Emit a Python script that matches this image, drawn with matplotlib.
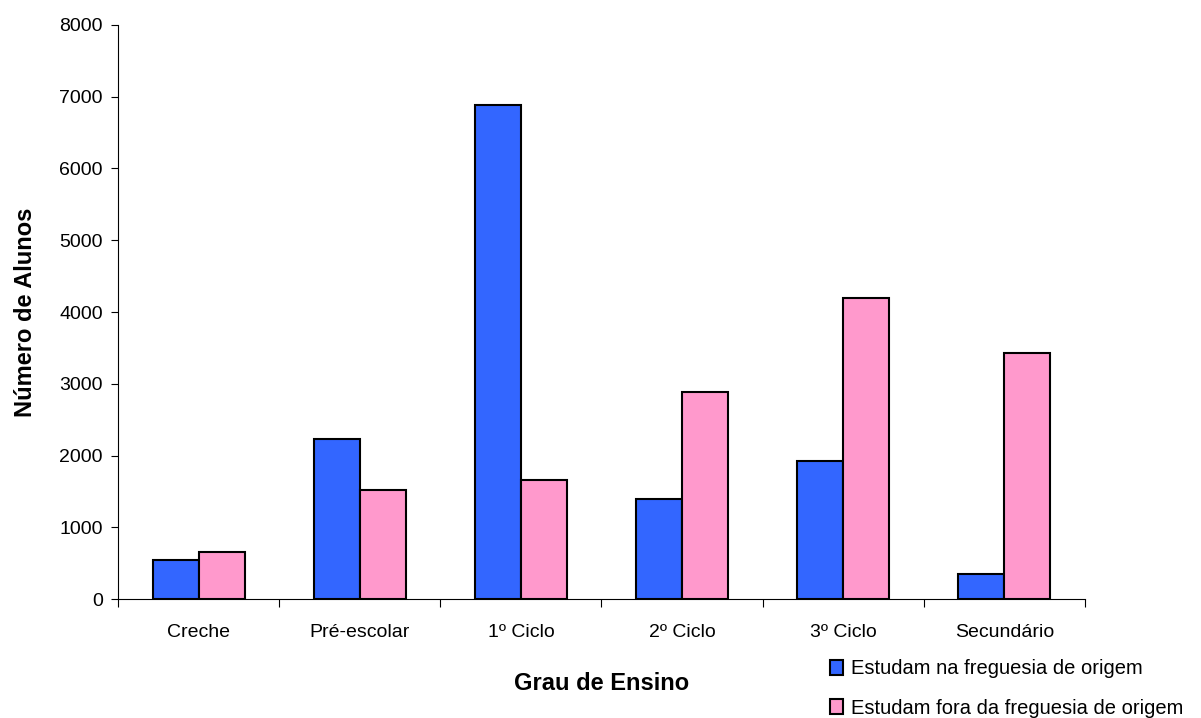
import matplotlib
matplotlib.use('Agg')
from matplotlib import pyplot as plt
import numpy as np

plt.rcParams['font.family'] = ['Liberation Sans', 'DejaVu Sans']

graus = ['Creche', 'Pré-escolar', '1º Ciclo', '2º Ciclo', '3º Ciclo', 'Secundário']
na_freguesia = [540, 2225, 6890, 1400, 1930, 350]
fora_freguesia = [650, 1515, 1655, 2885, 4195, 3430]
serie_labels = ['Estudam na freguesia de origem', 'Estudam fora da freguesia de origem']

fig = plt.figure(figsize=(12.01, 7.18), dpi=100)
ax = fig.add_axes([0.0983, 0.1657, 0.805, 0.7995])

x = np.arange(len(graus))
w = 0.285
b1 = ax.bar(x - w / 2, na_freguesia, w, color='#3366FF', edgecolor='black', linewidth=1.5)
b2 = ax.bar(x + w / 2, fora_freguesia, w, color='#FF99CC', edgecolor='black', linewidth=1.5)

ax.set_xlim(-0.5, len(graus) - 0.5)
ax.set_ylim(0, 8000)
ax.set_yticks(range(0, 8001, 1000))
ax.tick_params(axis='y', labelsize=14, direction='out', length=5, pad=6)

# category labels between boundary ticks, like the excel chart
ax.set_xticks(np.arange(-0.5, len(graus), 1))
ax.set_xticklabels([])
ax.set_xticks(x, minor=True)
ax.set_xticklabels(graus, minor=True)
ax.tick_params(axis='x', which='major', direction='out', length=6)
ax.tick_params(axis='x', which='minor', length=0, labelsize=14, pad=18)

for s in ['top', 'right']:
    ax.spines[s].set_visible(False)

ax.set_xlabel('Grau de Ensino', fontsize=17, fontweight='bold', labelpad=22)
ax.set_ylabel('Número de Alunos', fontsize=17, fontweight='bold', labelpad=16)

fig.legend([b1, b2], serie_labels, loc='center left',
           bbox_to_anchor=(0.676, 0.041), frameon=False, fontsize=14.5,
           handlelength=0.65, handleheight=0.8, handletextpad=0.4,
           labelspacing=1.0)

fig.savefig('out.png', dpi=100)
